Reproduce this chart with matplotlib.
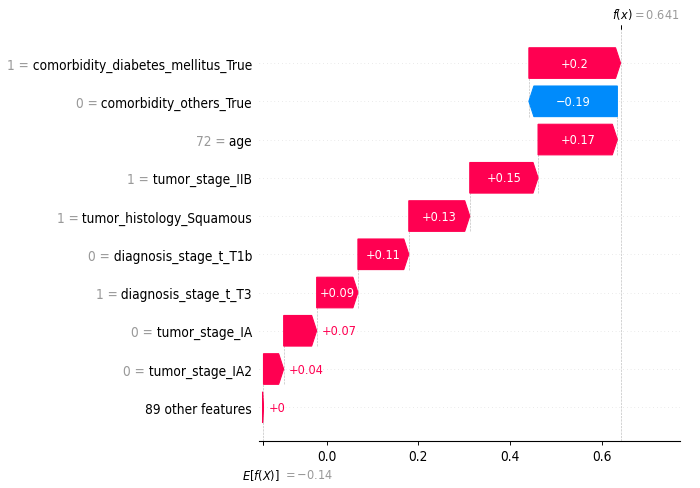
import re
import numpy as np
import matplotlib
matplotlib.use("Agg")
import matplotlib.pyplot as plt
import matplotlib.transforms as mtransforms

# one explained prediction: top features, then everything else lumped together
feature_names = ["comorbidity_diabetes_mellitus_True", "comorbidity_others_True", "age",
                 "tumor_stage_IIB", "tumor_histology_Squamous", "diagnosis_stage_t_T1b",
                 "diagnosis_stage_t_T3", "tumor_stage_IA", "tumor_stage_IA2"]
feature_values = [1, 0, 72, 1, 1, 0, 1, 0, 0]
shap_values = [0.200, -0.193, 0.173, 0.149, 0.133, 0.111, 0.090, 0.072, 0.044]
n_other = 89
other_impact = 0.002
base_value = -0.14

red = "#ff0051"
blue = "#008bfb"

# the reference is squeezed sideways, condensed DejaVu gets close to that
plt.rcParams["font.family"] = ["DejaVu Sans"]
plt.rcParams["font.stretch"] = "condensed"
plt.rcParams["mathtext.fontset"] = "custom"
plt.rcParams["mathtext.rm"] = "DejaVu Sans:stretch=condensed"
plt.rcParams["mathtext.it"] = "DejaVu Sans:style=oblique:stretch=condensed"
plt.rcParams["mathtext.bf"] = "DejaVu Sans:weight=bold:stretch=condensed"

label_size = 9.8
value_size = 9.05


def format_value(v, fmt):
    s = fmt % v
    s = re.sub(r"\.?0+$", "", s)
    if s[0] == "-":
        s = "\u2212" + s[1:]
    return s


values = np.array(shap_values + [other_impact])
fx = base_value + values.sum()
num_features = len(values)
rows = list(range(num_features - 1, -1, -1))

fig = plt.figure(figsize=(7, 4.89), dpi=100)
ax = fig.add_axes([0.370, 0.0955, 0.6014, 0.8431])

# walk down from f(x) to the base value
pos_inds, pos_widths, pos_lefts = [], [], []
neg_inds, neg_widths, neg_lefts = [], [], []
names = ["" for _ in range(num_features)]
prefixes = ["" for _ in range(num_features)]
loc = fx
for i, sval in enumerate(shap_values):
    loc -= sval
    if sval >= 0:
        pos_inds.append(rows[i]); pos_widths.append(sval); pos_lefts.append(loc)
    else:
        neg_inds.append(rows[i]); neg_widths.append(sval); neg_lefts.append(loc)
    ax.plot([loc, loc], [rows[i] - 1 - 0.4, rows[i] + 0.4],
            color="#bbbbbb", linestyle="--", linewidth=0.45, zorder=-1)
    names[rows[i]] = " " + feature_names[i]
    prefixes[rows[i]] = format_value(float(feature_values[i]), "%0.03f") + " ="

names[0] = "%d other features" % n_other
remaining = base_value - loc
if remaining < 0:
    pos_inds.append(0); pos_widths.append(-remaining); pos_lefts.append(loc + remaining)
else:
    neg_inds.append(0); neg_widths.append(-remaining); neg_lefts.append(loc + remaining)

points = pos_lefts + list(np.array(pos_lefts) + np.array(pos_widths)) + \
    neg_lefts + list(np.array(neg_lefts) + np.array(neg_widths))
dataw = np.max(points) - np.min(points)

# invisible bars, only there to size the axes
pad = np.array([0.1 * dataw if w < 1 else 0 for w in pos_widths])
ax.barh(pos_inds, np.array(pos_widths) + pad + 0.02 * dataw,
        left=np.array(pos_lefts) - 0.01 * dataw, color=red, alpha=0)
pad = np.array([-0.1 * dataw if -w < 1 else 0 for w in neg_widths])
ax.barh(neg_inds, np.array(neg_widths) + pad - 0.02 * dataw,
        left=np.array(neg_lefts) + 0.01 * dataw, color=blue, alpha=0)

head_length = 0.05
bar_width = 0.8
xlen = ax.get_xlim()[1] - ax.get_xlim()[0]
bbox = ax.get_window_extent().transformed(fig.dpi_scale_trans.inverted())
bbox_to_xscale = xlen / bbox.width
hl_scaled = bbox_to_xscale * head_length
renderer = fig.canvas.get_renderer()

for i in range(len(pos_inds)):
    dist = pos_widths[i]
    arrow_obj = ax.arrow(pos_lefts[i], pos_inds[i], max(dist - hl_scaled, 0.000001), 0,
                         head_length=min(dist, hl_scaled), color=red, width=bar_width,
                         head_width=bar_width, linewidth=0.8)
    txt = ax.text(pos_lefts[i] + 0.5 * dist, pos_inds[i], format_value(dist, "%+0.02f"),
                  ha="center", va="center", color="white", fontsize=value_size)
    if txt.get_window_extent(renderer=renderer).width > arrow_obj.get_window_extent(renderer=renderer).width:
        txt.remove()
        ax.text(pos_lefts[i] + 0.055 * bbox_to_xscale + dist, pos_inds[i],
                format_value(dist, "%+0.02f"), ha="left", va="center", color=red, fontsize=value_size)

for i in range(len(neg_inds)):
    dist = neg_widths[i]
    arrow_obj = ax.arrow(neg_lefts[i], neg_inds[i], -max(-dist - hl_scaled, 0.000001), 0,
                         head_length=min(-dist, hl_scaled), color=blue, width=bar_width,
                         head_width=bar_width, linewidth=0.8)
    txt = ax.text(neg_lefts[i] + 0.5 * dist, neg_inds[i], format_value(dist, "%+0.02f"),
                  ha="center", va="center", color="white", fontsize=value_size)
    if txt.get_window_extent(renderer=renderer).width > arrow_obj.get_window_extent(renderer=renderer).width:
        txt.remove()
        ax.text(neg_lefts[i] - 0.055 * bbox_to_xscale + dist, neg_inds[i],
                format_value(dist, "%+0.02f"), ha="right", va="center", color=blue, fontsize=value_size)

# feature names as black tick labels
ax.set_yticks(range(num_features))
ax.set_yticklabels(names, fontsize=label_size)

for i in range(num_features):
    ax.axhline(i, color="#cccccc", lw=0.45, dashes=(1, 5), zorder=-1)

ax.axvline(base_value, 0, 1 / num_features, color="#bbbbbb", linestyle="--", linewidth=0.45, zorder=-1)
ax.axvline(fx, 0, 1, color="#bbbbbb", linestyle="--", linewidth=0.45, zorder=-1)

ax.xaxis.set_ticks_position("bottom")
ax.yaxis.set_ticks_position("none")
for s in ["right", "top", "left"]:
    ax.spines[s].set_visible(False)
ax.spines["bottom"].set_linewidth(0.7)
ax.tick_params(axis="x", labelsize=label_size, length=2.9, width=0.66, pad=2.9)
ax.tick_params(axis="y", length=0, pad=5)
ax.set_xticks([0.0, 0.2, 0.4, 0.6])

# gray "value =" just left of each name
fig.canvas.draw()
ylab = ax.yaxis.get_majorticklabels()
trans = mtransforms.blended_transform_factory(ax.transAxes, ax.transData)
for t, row in zip(ylab, range(num_features)):
    if not prefixes[row]:
        continue
    x0 = t.get_window_extent(renderer=renderer).x0
    xa = ax.transAxes.inverted().transform((x0, 0))[0]
    ax.text(xa, row, prefixes[row], transform=trans, ha="right", va="center_baseline",
            color="#999999", fontsize=label_size, clip_on=False)

# E[f(X)] marker below the axis, one line under the tick labels
xmin, xmax = ax.get_xlim()
ax2 = ax.twiny()
ax2.set_xlim(xmin, xmax)
ax2.xaxis.set_ticks_position("bottom")
ax2.set_xticks([base_value, base_value + 1e-8])
ax2.set_xticklabels(["$E[f(X)]$", "$ = " + format_value(base_value, "%0.03f") + "$"],
                    fontsize=value_size, ha="left")
ax2.tick_params(axis="x", length=2.9, width=0.66, pad=15.3)
for s in ["right", "top", "left"]:
    ax2.spines[s].set_visible(False)

# f(x) marker on top
ax3 = ax2.twiny()
ax3.set_xlim(xmin, xmax)
ax3.xaxis.set_ticks_position("top")
ax3.set_xticks([fx, fx + 1e-8])
ax3.set_xticklabels(["$f(x)$", "$ = " + format_value(fx, "%0.03f") + "$"], fontsize=value_size, ha="left")
ax3.tick_params(axis="x", length=2.9, width=0.66, pad=2.9)
tl = ax3.xaxis.get_majorticklabels()
tl[0].set_transform(tl[0].get_transform() + mtransforms.ScaledTranslation(-0.09, 0, fig.dpi_scale_trans))
tl[1].set_transform(tl[1].get_transform() + mtransforms.ScaledTranslation(0.115, 0, fig.dpi_scale_trans))
tl[1].set_color("#999999")
for s in ["right", "top", "left", "bottom"]:
    ax3.spines[s].set_visible(False)

tl = ax2.xaxis.get_majorticklabels()
tl[0].set_transform(tl[0].get_transform() + mtransforms.ScaledTranslation(-0.21, 0, fig.dpi_scale_trans))
tl[1].set_transform(tl[1].get_transform() + mtransforms.ScaledTranslation(0.20, -0.01, fig.dpi_scale_trans))
tl[1].set_color("#999999")

fig.savefig("out.png", dpi=100)
